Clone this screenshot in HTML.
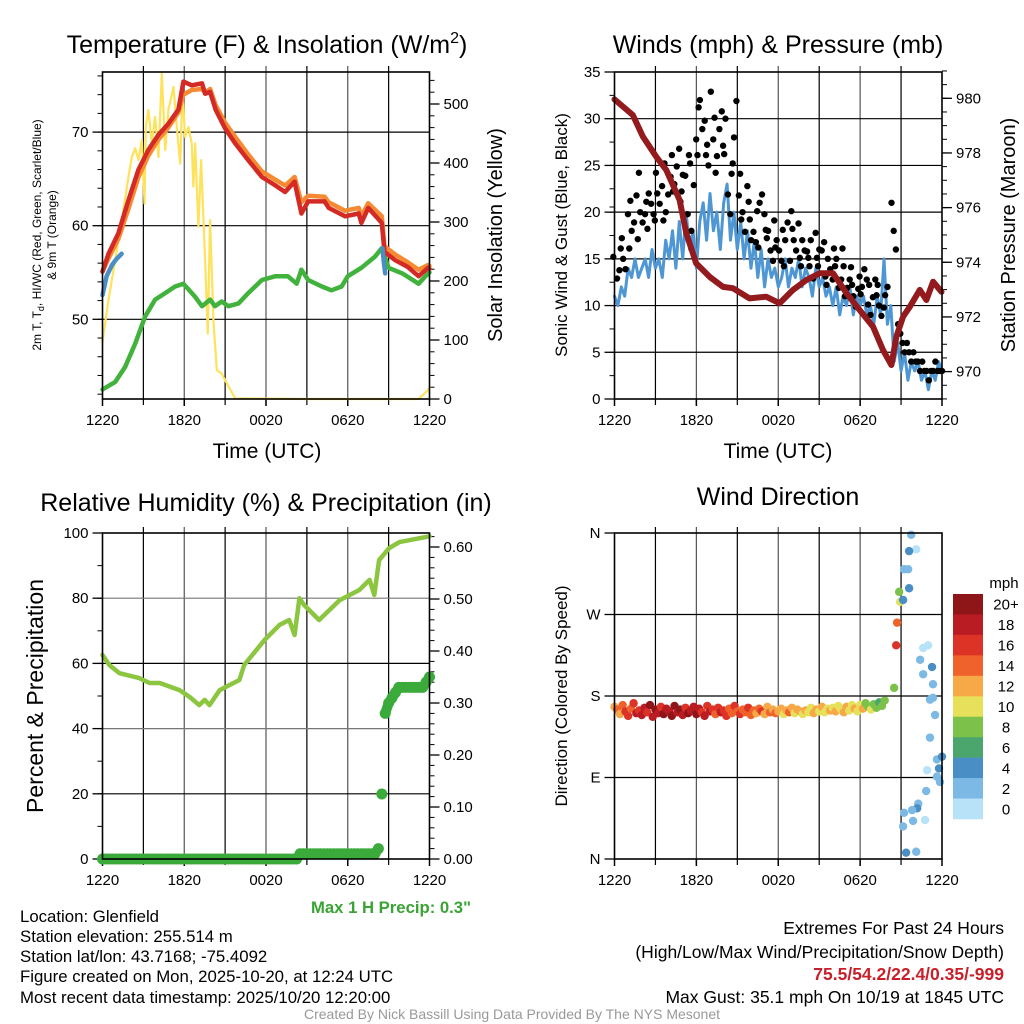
<!DOCTYPE html>
<html><head><meta charset="utf-8"><title>Glenfield Meteogram</title>
<style>
html,body{margin:0;padding:0;background:#fff;}
svg{display:block;font-family:"Liberation Sans",sans-serif;}
</style></head>
<body>
<svg id="chart" width="1024" height="1024" viewBox="0 0 1024 1024" xmlns="http://www.w3.org/2000/svg">
<rect x="0" y="0" width="1024" height="1024" fill="#fff"/>
<!-- titles -->
<text x="267" y="53" font-size="25" text-anchor="middle">Temperature (F) &amp; Insolation (W/m<tspan font-size="16" dy="-10">2</tspan><tspan dy="10">)</tspan></text>
<text x="778" y="53" font-size="25" text-anchor="middle">Winds (mph) &amp; Pressure (mb)</text>
<text x="266" y="511" font-size="25" text-anchor="middle">Relative Humidity (%) &amp; Precipitation (in)</text>
<text x="778" y="505" font-size="25" text-anchor="middle">Wind Direction</text>
<!-- axis titles -->
<text transform="translate(41,235) rotate(-90)" font-size="12" text-anchor="middle">2m T, T<tspan font-size="9" dy="3">d</tspan><tspan dy="-3">, HI/WC (Red, Green, Scarlet/Blue)</tspan></text>
<text transform="translate(56,235) rotate(-90)" font-size="12" text-anchor="middle">&amp; 9m T (Orange)</text>
<text transform="translate(502,235) rotate(-90)" font-size="20" text-anchor="middle">Solar Insolation (Yellow)</text>
<text x="267" y="458" font-size="21" text-anchor="middle">Time (UTC)</text>
<text x="778" y="458" font-size="21" text-anchor="middle">Time (UTC)</text>
<text transform="translate(567,235) rotate(-90)" font-size="17" text-anchor="middle">Sonic Wind &amp; Gust (Blue, Black)</text>
<text transform="translate(1015,235) rotate(-90)" font-size="20" text-anchor="middle">Station Pressure (Maroon)</text>
<text transform="translate(43,696) rotate(-90)" font-size="23" text-anchor="middle">Percent &amp; Precipitation</text>
<text transform="translate(567,696) rotate(-90)" font-size="17" text-anchor="middle">Direction (Colored By Speed)</text>
<text x="471" y="913" font-size="16.7" font-weight="bold" fill="#3aa335" text-anchor="end">Max 1 H Precip: 0.3"</text>
<!-- info text -->
<g font-size="16.8">
<text x="20" y="922">Location: Glenfield</text>
<text x="20" y="942">Station elevation: 255.514 m</text>
<text x="20" y="962">Station lat/lon: 43.7168; -75.4092</text>
<text x="20" y="982">Figure created on Mon, 2025-10-20, at 12:24 UTC</text>
<text x="20" y="1003">Most recent data timestamp: 2025/10/20 12:20:00</text>
</g>
<g font-size="17.5" text-anchor="end">
<text x="1004" y="934">Extremes For Past 24 Hours</text>
<text x="1004" y="958">(High/Low/Max Wind/Precipitation/Snow Depth)</text>
<text x="1004" y="980" fill="#c8202a" font-weight="bold">75.5/54.2/22.4/0.35/-999</text>
<text x="1004" y="1003">Max Gust: 35.1 mph On 10/19 at 1845 UTC</text>
</g>
<text x="512" y="1019" font-size="14" fill="#999" text-anchor="middle">Created By Nick Bassill Using Data Provided By The NYS Mesonet</text>
</svg>
<script>
// ===== Data =====
// Temperature panel (hours since 1220 UTC)
const tempHours = [0,0.44,1.17,1.9,2.64,3.37,4.1,4.84,5.57,5.94,6.55,7.3,7.53,7.9,8.3,9,9.73,10.7,11.7,12.7,13.4,14.1,14.6,15.1,16.3,16.6,17.8,18.8,19,19.5,20.5,20.7,21.5,22.4,23.2,23.9,24];
const tempRed = [55.1,57,59.2,62.7,66,68.1,69.7,70.9,72.4,75.4,75,75.2,74.1,74.3,72.4,70.4,68.8,67,65.2,64.3,63.6,64.7,61.3,62.6,62.6,61.9,61,61.3,60.3,61.9,60.3,57.2,56.3,55.6,54.6,55.5,55.4];
const tempOrange = [55.1,56.5,58.6,61.8,65.2,67.5,69.2,70.5,72.1,74,74.5,74.6,74.2,74.6,72.9,71,69.5,67.6,65.8,64.9,64.3,65.2,62.5,63.2,63.1,62.5,61.6,61.9,61,62.4,61,57.8,56.9,56.1,55.3,55.8,55.7];
const hiHoursA = [0,0.3,0.7,1.0,1.4];
const hiValuesA = [52.6,54.6,55.8,56.4,57];
const hiHoursB = [20.55,20.65,20.75];
const hiValuesB = [57.6,56,54.9];
const dewHours = [0,0.93,1.66,2.4,3.13,3.86,4.6,5.33,5.94,6.8,7.3,7.9,8.26,8.75,9.24,9.98,10.7,11.7,12.7,13.6,14.25,14.6,15.1,16.1,16.8,17.55,18,19,20,20.5,21,22,23.2,23.9,24];
const dewValues = [42.5,43.3,44.9,47.4,50.3,52.1,52.8,53.5,53.8,52.4,51.4,52.1,51.4,51.9,51.4,51.7,52.8,54.2,54.6,54.6,53.8,55.3,54.2,53.5,53.1,53.5,54.6,55.5,56.7,57.6,55.5,54.9,53.8,54.9,55];
const solarHours = [0,0.44,0.93,1.42,1.91,2.15,2.4,2.64,2.89,3.08,3.18,3.37,3.62,3.86,4.11,4.35,4.6,4.84,5.21,5.45,5.7,5.87,6.06,6.31,6.55,6.67,6.8,7.04,7.24,7.53,7.73,7.9,8.14,8.39,8.75,9.0,9.73,15,20,23.2,23.9,24];
const solarValues = [97,168,236,303,377,410,425,405,439,331,461,490,433,478,410,552,422,490,529,461,399,524,444,461,433,360,433,292,405,236,111,303,134,49,43,32,1,0,0,0,15,20];
// Winds panel
const windValues = [11,10,12,11,14,13,15,13,14, 15,13,16,14,15,13,17,15, 18,14,19,15,20,16,18,14, 19,21,17,22,18,20,16,21, 23,17,20,16,19,15,18,14, 17,13,16,12,15,13,14,12, 13,15,12,14,13,15,12,14, 13,11,14,12,13,11,12,10, 12,9,11,10,12,9,11,10, 11,9,10,8,11,9,15,8, 10,4,6,3,5,2,4,3, 4,2,3,1,3,2,4,3];
const gustValues = [15,13,16,14,15,17,14,16, 20,18,21,19,17,22,20,24, 19,21,20,22,18,21,19,20, 22,24,21,19,23,20,25,22, 26,24,23,22,25,21,27,24, 22,24,26,20,18,25,23,26, 28,32,31,29,26,30,25,27, 33,30,28,26,24,29,27,31, 30,26,22,24,20,28,25,32, 24,22,20,19,18,21,23,17, 19,18,20,17,21,16,22,18, 20,18,17,16,19,15,17,16, 16,18,15,17,14,19,20,15, 17,18,16,15,19,17,14,16, 15,16,17,14,13,15,18,16, 14,16,13,17,15,12,14,16, 13,15,14,12,16,13,11,14, 12,14,13,11,12,10,13,12, 12,11,14,10,13,9,12,11, 11,13,10,12,9,11,10,12];
const lateGustValues = [21,18,16,8,7,6,5,6,5,4,5,4,4,3,4,3,3,2,3,3,4,3,3,3];
const pressHours = [0,1.34,2.08,3.06,3.79,4.77,5.26,5.99,6.97,7.95,8.68,9.9,11.12,12.1,13.08,14.06,15.04,16.01,17,17.97,18.95,19.68,20.29,20.66,21.15,21.64,22.37,22.86,23.35,23.96];
const pressValues = [979.96,979.39,978.6,977.86,977.38,976.28,975.06,973.96,973.47,973.1,973.05,972.68,972.74,972.5,972.99,973.35,973.6,973.6,972.87,972.25,971.64,970.79,970.24,971.28,972.01,972.37,972.99,972.62,973.29,972.92];
// Humidity panel
const rhHours = [0,0.5,1.25,2.7,3.45,4.2,5.65,6.4,7.1,7.5,7.85,8.6,10.05,10.4,11.9,13,13.7,14.1,14.45,14.8,15.9,17.4,18.85,19.6,19.95,20.3,21.05,21.8,24];
const rhValues = [62.6,59.5,57,55.5,54,54,51.8,49.7,47.2,48.8,47.2,51.8,54.9,59.5,67.2,71.8,73.3,68.7,80,77.9,73.3,79.4,82.5,85.6,81,91.7,95.4,97.2,99];
const precipValues = [0,0,0,0,0,0,0,0,0,0,0,0,0,0,0,0,0,0,0,0,0,0,0,0,0,0,0,0,0,0,0,0,0,0,0,0,0,0,0,0,0,0,0,0,0,0,0,0,0,0,0,0,0,0,0,0,0,0,
 0.01,0.01,0.01,0.01,0.01,0.01,0.01,0.01,0.01,0.01,0.01,0.01,0.01,0.01,0.01,0.01,0.01,0.01,0.01,0.01,0.01,0.01,0.01,
 0.02,0.125,0.28,0.30,0.31,0.32,0.33,0.33,0.33,0.33,0.33,0.33,0.33,0.33,0.34,0.35];
// Wind direction panel
const dirValues = [168,165,160,170,163,158,166,172,161,164, 159,167,162,170,157,165,161,168,160,166, 163,158,169,162,165,159,167,161,164,168, 160,166,162,158,169,163,165,160,167,162, 164,158,166,161,169,163,160,165,162,167, 159,164,161,166,163,160,168,162,165,161, 163,166,160,164,162,167,161,165,163,160, 164,162,167,161,165,163,168,162,166,164, 167,163,169,165,162,168,164,170,166,163, 170,166,172,168,165,171,167,173,169,175];
const dirSpeeds = [13,15,12,14,16, 17,15,16,18,17, 18,19,17,20,18,21,19,17,20,18, 19,21,20,18,22,19,17,20,18,19, 20,18,17,19,16,18,17,15,16,18, 16,17,15,14,16,15,17,14,15,16, 14,15,13,14,16,13,12,14,13,15, 13,12,11,13,14,12,10,12,13,11, 12,11,10,12,13,11,12,10,11,12, 11,12,10,11,13,12,11,10,12,11, 10,12,9,8,10,8,9,7,8,9];
const lateDirHours = [21.74,22.11,21.59,21.22,21.52,21.59,20.86,20.93,21.15,20.71,20.64,20.49,22.62,22.98,22.4,23.27,22.62,23.34,23.12,23.34,23.49,23.12,23.63,24.0,23.78,22.91,23.63,23.85,22.84,22.26,22.18,21.81,21.22,21.88,22.76,21.15,21.37,22.11];
const lateDirValues = [358,342,340,320,320,299,295,284,286,261,236,189,233,236,220,212,204,193,176,178,159,134,110,113,100,98,91,85,75,61,56,54,51,42,43,36,7,8];
const lateDirSpeeds = [2,0,4,2,2,4,8,10,4,14,16,8,0,0,2,4,2,2,2,2,2,2,2,4,4,0,2,2,2,2,4,2,2,2,0,2,4,2];
const speedColors = ['#b8e2f8','#7db9e5','#4a8ec6','#4aa66c','#7cc24a','#e6e05a','#f7a847','#f0622b','#dd3327','#b91c23','#8e1518'];
const speedLabels = ['0','2','4','6','8','10','12','14','16','18','20+'];
const tickTimeLabels = ['1220','1820','0020','0620','1220'];
const tempTicks = [50,60,70];
const solarTicks = [0,100,200,300,400,500];
const windTicks = [0,5,10,15,20,25,30,35];
const pressTicks = [970,972,974,976,978,980];
const rhTicks = [0,20,40,60,80,100];
const precipTicks = [0,0.1,0.2,0.3,0.4,0.5,0.6];
const dirTicks = [0,90,180,270,360];
const dirTickLabels = ['N','E','S','W','N'];

// ===== Helpers =====
const NS='http://www.w3.org/2000/svg';
const svg=document.getElementById('chart');
function mk(tag,attrs,parent){const e=document.createElementNS(NS,tag);for(const k in attrs)e.setAttribute(k,attrs[k]);(parent||svg).appendChild(e);return e;}
function pathD(xs,ys){let d='';for(let i=0;i<xs.length;i++)d+=(i?'L':'M')+xs[i].toFixed(1)+','+ys[i].toFixed(1);return d;}
function speedColor(s){let i=Math.floor(s/2);if(i<0)i=0;if(i>10)i=10;return speedColors[i];}

const L={x0:102.5,x1:429.5}, R={x0:614.5,x1:942};
const xL=t=>L.x0+t*(L.x1-L.x0)/24;
const xR=t=>R.x0+t*(R.x1-R.x0)/24;
const yTemp=v=>319.3-(v-50)*9.36;
const ySolar=v=>399-v*0.59;
const yWind=v=>399-v*9.343;
const yPress=v=>98.3+(980-v)*27.33;
const yRH=v=>859-v*3.26;
const yPrecip=v=>859-v*520;
const yDir=v=>859-v*326/360;

function panelFrame(name,xs,y0,y1){
  const g=mk('g',{});
  
  
  for(let h=3;h<24;h+=3){
    const x=xs(h);
    const ln=mk('line',{x1:x,y1:y0-6,x2:x,y2:y1+6,stroke:(h%6===0?'#555':'#000'),'stroke-width':1.2},g);
    
    
  }
  for(let h=0;h<=24;h+=6){
    const lb=mk('text',{x:xs(h),y:y1+26,'font-size':15,'text-anchor':'middle'},g);
    lb.textContent=tickTimeLabels[h/6];
    
    
    const tk=mk('line',{x1:xs(h),y1:y1,x2:xs(h),y2:y1+7,stroke:'#000','stroke-width':1.5},g);
    
    
  }
  return g;
}
function hGrid(g,xa,xb,y,color){
  const ln=mk('line',{x1:xa,y1:y,x2:xb,y2:y,stroke:color,'stroke-width':1.2},g);
  
  
}
function yTicks(g,x,side,vals,yf,labels,minorStep,minorFrom,minorTo){
  const dir=side==='left'?-1:1;
  for(let v=minorFrom;v<=minorTo+1e-9;v+=minorStep){
    const y=yf(v);
    const tk=mk('line',{x1:x,y1:y,x2:x+dir*5,y2:y,stroke:'#000','stroke-width':1},g);
    
    
  }
  vals.forEach((v,i)=>{
    const y=yf(v);
    const tk=mk('line',{x1:x,y1:y,x2:x+dir*10,y2:y,stroke:'#000','stroke-width':1.3},g);
    
    
    const lb=mk('text',{x:x+dir*14,y:y+5,'font-size':15,'text-anchor':side==='left'?'end':'start'},g);
    lb.textContent=labels[i];
    
    
  });
}
function frame(g,x0,y0,x1,y1){
  const r=mk('rect',{x:x0,y:y0,width:x1-x0,height:y1-y0,fill:'none',stroke:'#000','stroke-width':1.6},g);
  
  
}
function series(g,name,xs,ys,color,w){
  const p=mk('path',{d:pathD(xs,ys),fill:'none',stroke:color,'stroke-width':w,'stroke-linejoin':'round','stroke-linecap':'round'},g);
  
  
  return p;
}

// ===== Panel 1: Temperature =====
(function(){
  const g=panelFrame('temperature',xL,72,399);
  
  tempTicks.forEach(v=>hGrid(g,L.x0,L.x1,yTemp(v),'#000'));
  yTicks(g,L.x0,'left',tempTicks,yTemp,tempTicks.map(String),2,42,76);
  yTicks(g,L.x1,'right',solarTicks,ySolar,solarTicks.map(String),20,0,540);
  series(g,'solar-insolation-line',solarHours.map(xL),solarValues.map(ySolar),'#fde25a',2.2);
  series(g,'dewpoint-line',dewHours.map(xL),dewValues.map(yTemp),'#41b33c',4.5);
  series(g,'temp-9m-line',tempHours.map(xL),tempOrange.map(yTemp),'#f58a33',4.5);
  series(g,'temp-2m-line',tempHours.map(xL),tempRed.map(yTemp),'#d42a25',4.5);
  series(g,'heat-index-line-a',hiHoursA.map(xL),hiValuesA.map(yTemp),'#4a8ec6',4.5);
  series(g,'heat-index-line-b',hiHoursB.map(xL),hiValuesB.map(yTemp),'#4a8ec6',4.5);
  frame(g,L.x0,72,L.x1,399);
})();

// ===== Panel 2: Winds =====
(function(){
  const g=panelFrame('winds',xR,72,399);
  
  windTicks.slice(1,7).forEach(v=>hGrid(g,R.x0,R.x1,yWind(v),'#000'));
  yTicks(g,R.x0,'left',windTicks,yWind,windTicks.map(String),2.5,0,35);
  yTicks(g,R.x1,'right',pressTicks,yPress,pressTicks.map(String),0.5,969,981);
  const wh=windValues.map((v,i)=>i*0.25);
  series(g,'sonic-wind-line',wh.map(xR),windValues.map(yWind),'#4f97d4',3);
  const gg=mk('g',{},g);
  
  
  gustValues.forEach((v,i)=>{
    const c=mk('circle',{cx:xR(i/8+0.06)+((i*7)%5-2),cy:yWind(v)+((i*3)%5-2),r:3.2,fill:'#000'},gg);
    
    
  });
  lateGustValues.forEach((v,i)=>{
    const c=mk('circle',{cx:xR(20.3+i*3.7/23),cy:yWind(v),r:3.2,fill:'#000'},gg);
    
    
  });
  series(g,'pressure-line',pressHours.map(xR),pressValues.map(yPress),'#931a1d',6);
  frame(g,R.x0,72,R.x1,399);
})();

// ===== Panel 3: Humidity & Precip =====
(function(){
  const g=panelFrame('humidity',xL,533,859);
  
  [20,40,60,80].forEach(v=>hGrid(g,L.x0,L.x1,yRH(v),(v===40||v===80)?'#777':'#000'));
  yTicks(g,L.x0,'left',rhTicks,yRH,rhTicks.map(String),10,0,100);
  yTicks(g,L.x1,'right',precipTicks,yPrecip,precipTicks.map(v=>v.toFixed(2)),0.02,0,0.62);
  series(g,'relative-humidity-line',rhHours.map(xL),rhValues.map(yRH),'#8cc641',4.5);
  const ph=precipValues.map((v,i)=>i*0.25);
  for(let i=1;i<precipValues.length;i++){
    if(Math.abs(precipValues[i]-precipValues[i-1])<0.05){
      const s=mk('line',{x1:xL(ph[i-1]),y1:yPrecip(precipValues[i-1]),x2:xL(ph[i]),y2:yPrecip(precipValues[i]),stroke:'#3aaa3a','stroke-width':10,'stroke-linecap':'round'},g);
      
      
    }
  }
  precipValues.forEach((v,i)=>{
    const c=mk('circle',{cx:xL(ph[i]),cy:yPrecip(v),r:5.5,fill:'#3aaa3a'},g);
    
    
  });
  frame(g,L.x0,533,L.x1,859);
})();

// ===== Panel 4: Wind direction =====
(function(){
  const g=panelFrame('direction',xR,533,859);
  
  [90,180,270].forEach(v=>hGrid(g,R.x0,R.x1,yDir(v),'#000'));
  yTicks(g,R.x0,'left',dirTicks,yDir,dirTickLabels,360,720,720);
  const dg=mk('g',{},g);
  
  
  dirValues.forEach((v,i)=>{
    const c=mk('circle',{cx:xR(i*0.2),cy:yDir(v),r:4.2,fill:speedColor(dirSpeeds[i])},dg);
    
    
  });
  lateDirValues.forEach((v,i)=>{
    const c=mk('circle',{cx:xR(lateDirHours[i]),cy:yDir(v),r:4.2,fill:speedColor(lateDirSpeeds[i])},dg);
    
    
  });
  frame(g,R.x0,533,R.x1,859);
  const lg=mk('g',{},svg);
  
  
  const mt=mk('text',{x:1004,y:588,'font-size':15,'text-anchor':'middle'},lg);
  mt.textContent='mph';
  
  
  const bh=225/11;
  for(let i=0;i<11;i++){
    const k=10-i;
    const y=594+i*bh;
    const r=mk('rect',{x:953,y:y,width:30,height:bh+0.3,fill:speedColors[k]},lg);
    
    
    const t=mk('text',{x:1006,y:y+bh/2+5.5,'font-size':15,'text-anchor':'middle'},lg);
    t.textContent=speedLabels[k];
    
    
  }
})();
</script>
</body></html>
